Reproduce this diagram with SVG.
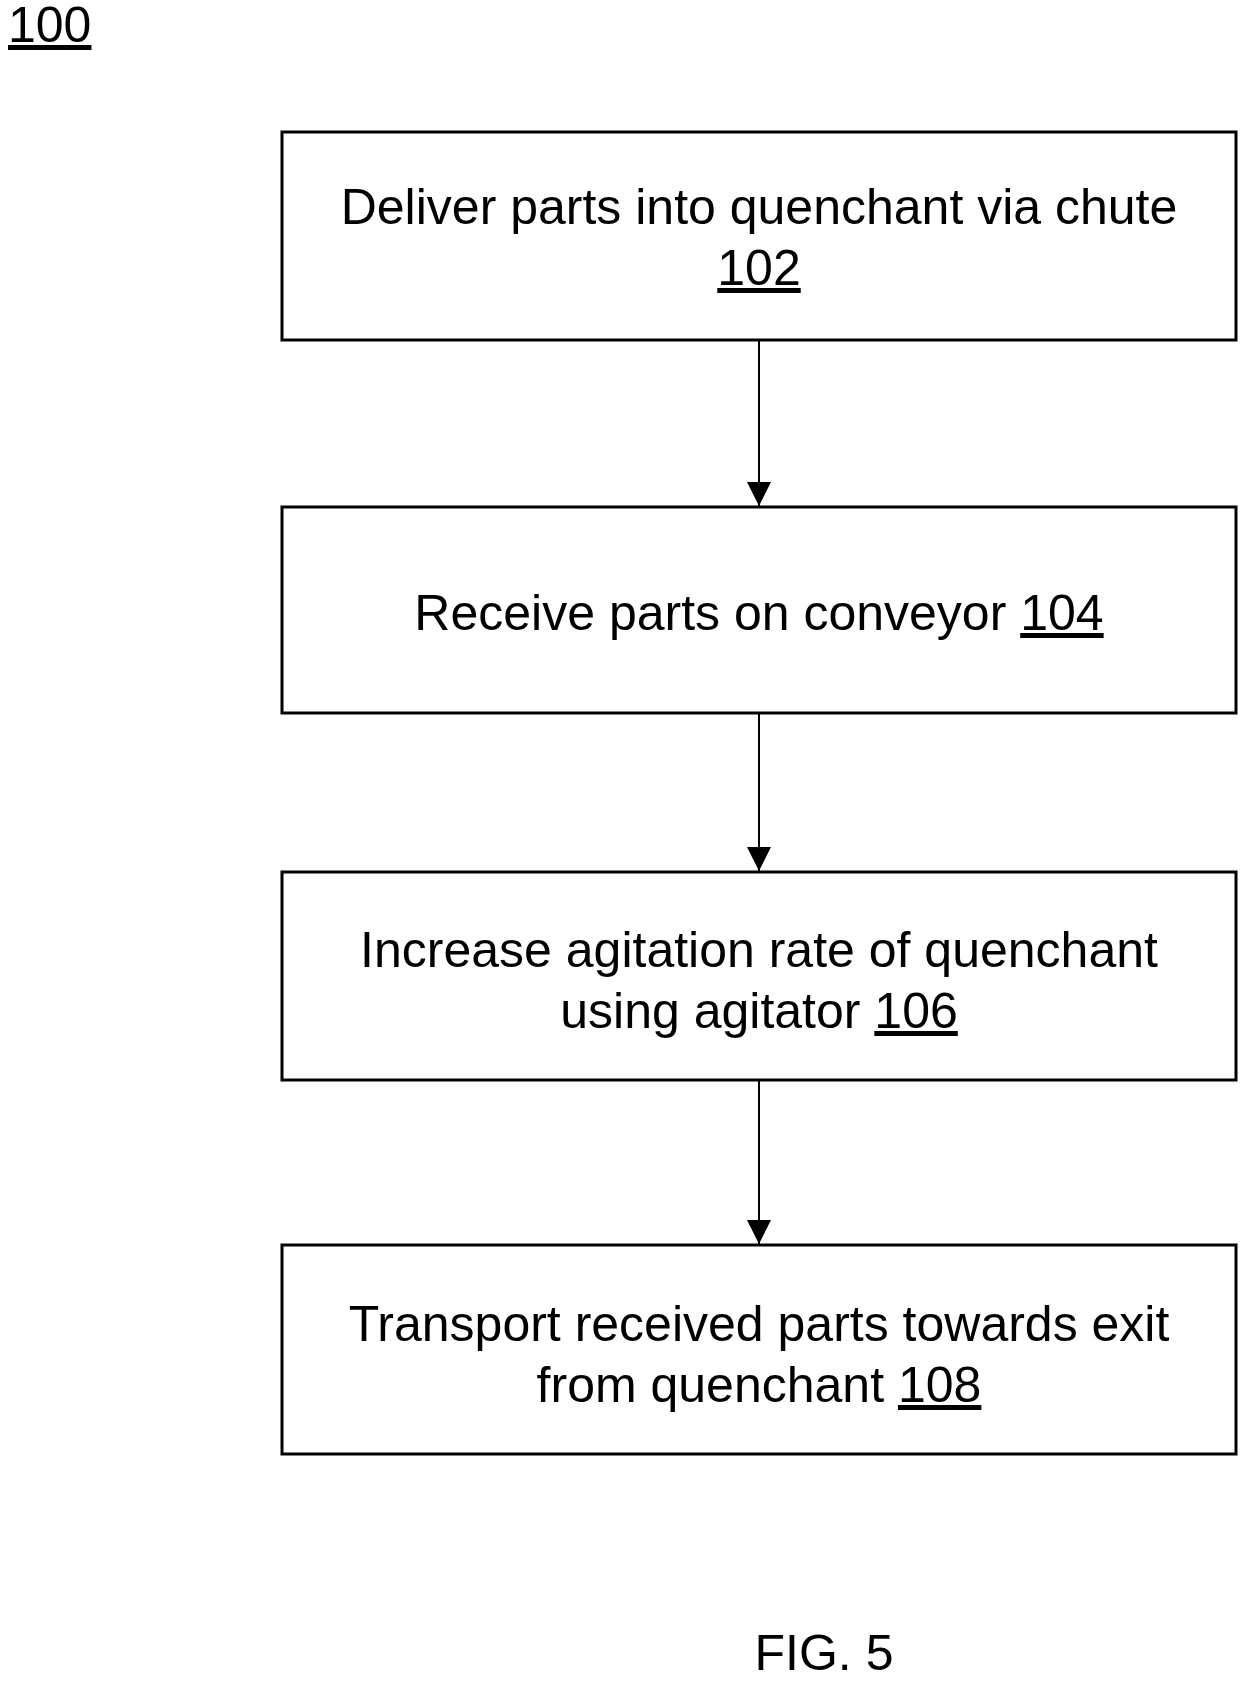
<svg xmlns="http://www.w3.org/2000/svg" width="1258" height="1681" viewBox="0 0 1258 1681">
<style>
text{font-family:"Liberation Sans",Arial,sans-serif;font-size:50px;fill:#000;text-anchor:middle}
.box{fill:#fff;stroke:#000;stroke-width:3}
.u{text-decoration:underline}
line{stroke:#000;stroke-width:2}
</style>
<defs><marker id="ah" viewBox="0 0 10 10" refX="10" refY="5" markerWidth="26" markerHeight="24" orient="auto" markerUnits="userSpaceOnUse"><path d="M0,0 L10,5 L0,10 z"/></marker></defs>
<rect width="1258" height="1681" fill="#fff"/>
<text x="8" y="42" style="text-anchor:start" class="u">100</text>
<g id="n102"><rect class="box" x="282" y="132" width="954" height="208"/><text x="759" y="224">Deliver parts into quenchant via chute</text><text x="759" y="285" class="u">102</text></g>
<g id="n104"><rect class="box" x="282" y="507" width="954" height="206"/><text x="759" y="630">Receive parts on conveyor <tspan class="u">104</tspan></text></g>
<g id="n106"><rect class="box" x="282" y="872" width="954" height="208"/><text x="759" y="967">Increase agitation rate of quenchant</text><text x="759" y="1028">using agitator <tspan class="u">106</tspan></text></g>
<g id="n108"><rect class="box" x="282" y="1245" width="954" height="209"/><text x="759" y="1341">Transport received parts towards exit</text><text x="759" y="1402">from quenchant <tspan class="u">108</tspan></text></g>
<g id="connectors">
<line x1="759" y1="340" x2="759" y2="506" marker-end="url(#ah)"/>
<line x1="759" y1="713" x2="759" y2="871" marker-end="url(#ah)"/>
<line x1="759" y1="1080" x2="759" y2="1244" marker-end="url(#ah)"/>
</g>
<text x="824" y="1670">FIG. 5</text>
</svg>
